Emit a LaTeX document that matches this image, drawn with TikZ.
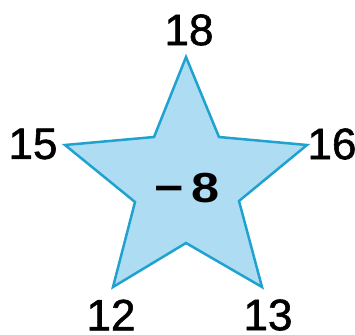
\documentclass[tikz,border=0pt]{standalone}
\usepackage{fontspec}
\setmainfont{Liberation Sans}
\newfontfamily\numfont[FakeBold=1.2]{Liberation Sans}
\newfontfamily\numfontfb[BoldFont={Liberation Sans},BoldFeatures={FakeBold=1.3}]{Liberation Sans}
\definecolor{starfill}{RGB}{174,220,243}
\definecolor{starline}{RGB}{32,162,208}
\begin{document}
\begin{tikzpicture}[x=1pt,y=-1pt,
  num/.style={inner sep=0pt,font=\fontsize{44}{44}\numfontfb\bfseries},
  center/.style={inner sep=0pt,font=\fontsize{42}{42}\selectfont\bfseries}]
\useasboundingbox (0,0) rectangle (355,334);
\coordinate (t) at (186,57);
\coordinate (ir) at (219,137);
\coordinate (r) at (307,145);
\coordinate (rr) at (239,201);
\coordinate (br) at (262,287);
\coordinate (ib) at (186,243);
\coordinate (bl) at (113,287);
\coordinate (lr) at (135,202);
\coordinate (l) at (65,145);
\coordinate (il) at (154,137);
\draw[starline,fill=starfill,line width=2.5pt,line join=miter]
  (t) -- (ir) -- (r) -- (rr) -- (br) -- (ib) -- (bl) -- (lr) -- (l) -- (il) -- cycle;
\node[num] (n18) at (189,30) {18};
\node[num] (n15) at (33,144) {15};
\node[num] (n16) at (332,144) {16};
\node[num] (n12) at (111,315) {12};
\node[num] (n13) at (268,315) {13};
\node[center] (c) at (187,188) {\scalebox{1.2}[1]{−\,8}};
\end{tikzpicture}
\end{document}
